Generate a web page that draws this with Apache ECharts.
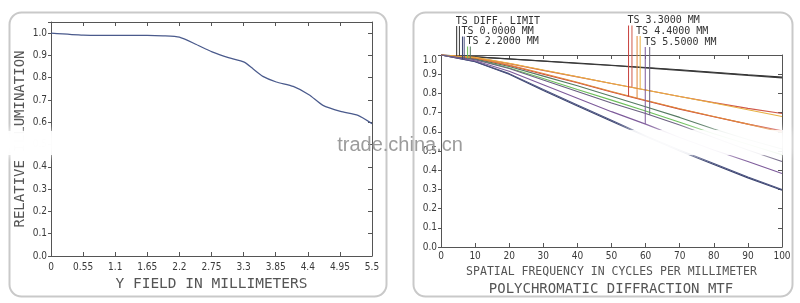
<!DOCTYPE html>
<html><head><meta charset="utf-8">
<script src="https://cdn.jsdelivr.net/npm/echarts@6/dist/echarts.min.js"></script>
<style>html,body{margin:0;padding:0;background:#fff}#c{width:800px;height:303px}</style>
</head><body><div id="c"></div><script>
// ---------- data: relative illumination ----------
const leftField = [0, 0.55, 1.1, 1.65, 1.92, 2.2, 2.49, 2.76, 3.04, 3.31, 3.46, 3.63, 3.86, 4.15, 4.42, 4.66, 4.96, 5.26, 5.5];
const leftIllum = [1.0, 0.991, 0.99, 0.99, 0.988, 0.982, 0.949, 0.916, 0.89, 0.87, 0.84, 0.806, 0.781, 0.761, 0.724, 0.676, 0.649, 0.631, 0.594];
const leftXTicks = ['0', '0.55', '1.1', '1.65', '2.2', '2.75', '3.3', '3.85', '4.4', '4.95', '5.5'];

// ---------- data: polychromatic diffraction MTF ----------
const freq = [0, 10, 20, 30, 40, 50, 60, 70, 80, 90, 100];
const mtfDiffT = [1, 0.99, 0.98, 0.969, 0.958, 0.947, 0.935, 0.923, 0.91, 0.897, 0.885];
const mtfDiffS = [1, 0.99, 0.979, 0.968, 0.956, 0.945, 0.933, 0.92, 0.907, 0.894, 0.881];
const mtf00T = [1, 0.965, 0.9, 0.815, 0.735, 0.655, 0.575, 0.5, 0.43, 0.36, 0.296];
const mtf00S = [1, 0.966, 0.903, 0.82, 0.74, 0.66, 0.58, 0.505, 0.435, 0.365, 0.3];
const mtf22T = [1, 0.978, 0.932, 0.878, 0.82, 0.765, 0.708, 0.65, 0.59, 0.535, 0.48];
const mtf22S = [1, 0.98, 0.94, 0.89, 0.84, 0.785, 0.73, 0.675, 0.615, 0.56, 0.51];
const mtf33T = [1, 0.985, 0.945, 0.9, 0.855, 0.807, 0.762, 0.718, 0.678, 0.64, 0.605];
const mtf33S = [1, 0.987, 0.955, 0.92, 0.886, 0.852, 0.818, 0.784, 0.752, 0.722, 0.695];
const mtf44T = [1, 0.985, 0.948, 0.904, 0.858, 0.81, 0.764, 0.72, 0.68, 0.64, 0.598];
const mtf44S = [1, 0.988, 0.957, 0.922, 0.887, 0.852, 0.818, 0.784, 0.75, 0.715, 0.68];
const mtf55T = [1, 0.97, 0.915, 0.845, 0.775, 0.705, 0.64, 0.57, 0.505, 0.445, 0.383];
const mtf55S = [1, 0.975, 0.93, 0.87, 0.81, 0.75, 0.695, 0.635, 0.57, 0.505, 0.445];
const rightXTicks = ['0', '10', '20', '30', '40', '50', '60', '70', '80', '90', '100'];

const legendLabels = ['TS DIFF. LIMIT', 'TS 0.0000 MM', 'TS 2.2000 MM', 'TS 3.3000 MM', 'TS 4.4000 MM', 'TS 5.5000 MM'];
const leaderFreqs = [[4.6, 5.4], [6.3, 6.8], [7.8, 8.6], [55.0, 56.0], [57.5, 58.4], [59.9, 61.2]];

const mtfSeries = [
  { name: 'DIFF T', data: mtfDiffT, color: '#2b2b2b' },
  { name: 'DIFF S', data: mtfDiffS, color: '#3a3a3a' },
  { name: '0.0 T', data: mtf00T, color: '#3d4570' },
  { name: '0.0 S', data: mtf00S, color: '#4b5380' },
  { name: '2.2 T', data: mtf22T, color: '#6cbf5a' },
  { name: '2.2 S', data: mtf22S, color: '#557a62' },
  { name: '3.3 T', data: mtf33T, color: '#c8403c' },
  { name: '3.3 S', data: mtf33S, color: '#d0584a' },
  { name: '4.4 T', data: mtf44T, color: '#e0883a' },
  { name: '4.4 S', data: mtf44S, color: '#e8b040' },
  { name: '5.5 T', data: mtf55T, color: '#7d5a9a' },
  { name: '5.5 S', data: mtf55S, color: '#6a5f80' }
];

const MONO = "'DejaVu Sans Mono','Liberation Mono',monospace";
const NARROW = "'Liberation Sans Narrow','DejaVu Sans Condensed','DejaVu Sans Mono',sans-serif";
const AX = '#555';
const tickLbl = { color: '#3a3a3a', fontFamily: NARROW, fontSize: 10 };

function frameAxis(extra) {
  return Object.assign({
    type: 'value', splitLine: { show: false },
    axisLine: { show: true, onZero: false, lineStyle: { color: AX, width: 1 } },
    axisTick: { show: true, inside: true, length: 4, lineStyle: { color: AX } },
    axisLabel: { show: false }
  }, extra);
}

const chart = echarts.init(document.getElementById('c'), null, { renderer: 'canvas' });

const option = {
  animation: false,
  backgroundColor: '#fff',
  grid: [
    { left: 51, top: 22, width: 321, height: 234 },
    { left: 441, top: 55, width: 341, height: 192 }
  ],
  xAxis: [
    frameAxis({ gridIndex: 0, position: 'bottom', min: 0, max: 5.5, interval: 0.55,
      axisLabel: Object.assign({ show: true, margin: 6, formatter: v => leftXTicks[Math.round(v / 0.55)] || '' }, tickLbl),
      name: 'Y FIELD IN MILLIMETERS', nameLocation: 'middle', nameGap: 21,
      nameTextStyle: { fontFamily: MONO, fontSize: 14.5, color: '#555' } }),
    frameAxis({ gridIndex: 0, position: 'top', min: 0, max: 5.5, interval: 0.55 }),
    frameAxis({ gridIndex: 1, position: 'bottom', min: 0, max: 100, interval: 10,
      axisLabel: Object.assign({ show: true, margin: 4, formatter: v => rightXTicks[Math.round(v / 10)] || '' }, tickLbl),
      name: 'SPATIAL FREQUENCY IN CYCLES PER MILLIMETER', nameLocation: 'middle', nameGap: 16,
      nameTextStyle: { fontFamily: MONO, fontSize: 11.5, color: '#555' } }),
    frameAxis({ gridIndex: 1, position: 'top', min: 0, max: 100, interval: 10 })
  ],
  yAxis: [
    frameAxis({ gridIndex: 0, position: 'left', min: 0, max: 1.05, interval: 0.1,
      axisTick: { show: true, inside: false, length: 3, lineStyle: { color: AX } },
      axisLabel: Object.assign({ show: true, margin: 4, formatter: v => v > 1.001 ? '' : v.toFixed(1) }, tickLbl),
      name: 'RELATIVE ILLUMINATION', nameLocation: 'middle', nameGap: 24, nameRotate: 90,
      nameTextStyle: { fontFamily: MONO, fontSize: 14, color: '#555' } }),
    frameAxis({ gridIndex: 0, position: 'right', min: 0, max: 1.05, interval: 0.1 }),
    frameAxis({ gridIndex: 1, position: 'left', min: 0, max: 1, interval: 0.1,
      axisTick: { show: true, inside: false, length: 3, lineStyle: { color: AX } },
      axisLabel: Object.assign({ show: true, margin: 4,
        formatter: v => v > 0.999 ? '{t|1.0}' : v.toFixed(1),
        rich: { t: { padding: [10, 0, 0, 0], color: '#3a3a3a', fontFamily: NARROW, fontSize: 10 } } }, tickLbl) }),
    frameAxis({ gridIndex: 1, position: 'right', min: 0, max: 1, interval: 0.1 })
  ],
  series: [
    { type: 'line', xAxisIndex: 0, yAxisIndex: 0, showSymbol: false, smooth: 0.2,
      data: leftField.map((x, i) => [x, leftIllum[i]]),
      lineStyle: { color: '#4a5a8c', width: 1.2 } }
  ].concat(mtfSeries.map(s => ({
    type: 'line', name: s.name, xAxisIndex: 2, yAxisIndex: 2, showSymbol: false,
    data: freq.map((f, i) => [f, s.data[i]]),
    lineStyle: { color: s.color, width: 1.1 }
  })))
};
chart.setOption(option);

function interp(xs, ys, x) {
  for (let i = 1; i < xs.length; i++) {
    if (x <= xs[i]) { const t = (x - xs[i - 1]) / (xs[i] - xs[i - 1]); return ys[i - 1] + t * (ys[i] - ys[i - 1]); }
  }
  return ys[ys.length - 1];
}

const graphics = [];
// rounded panel frames
graphics.push({ type: 'rect', shape: { x: 9.5, y: 12.5, width: 377, height: 284, r: 12 }, style: { fill: null, stroke: '#c9c9c9', lineWidth: 2 }, z: 1 });
graphics.push({ type: 'rect', shape: { x: 413.5, y: 12.5, width: 379, height: 284, r: 12 }, style: { fill: null, stroke: '#c9c9c9', lineWidth: 2 }, z: 1 });

// legend labels with leader lines
const rowY = [21, 31.5, 41.5, 20.5, 31, 42];
legendLabels.forEach((lab, g) => {
  const sT = mtfSeries[g * 2], sS = mtfSeries[g * 2 + 1];
  const pts = leaderFreqs[g].map((f, k) => {
    const s = k === 0 ? sT : sS;
    return { f, color: s.color, p: chart.convertToPixel({ xAxisIndex: 2, yAxisIndex: 2 }, [f, interp(freq, s.data, f)]) };
  });
  const x0 = pts[0].p[0] - 1;
  graphics.push({ type: 'text', x: x0, y: rowY[g], style: { text: lab, fill: '#333', font: '10px ' + MONO, verticalAlign: 'middle', align: 'left' }, z: 50 });
  pts.forEach(pt => {
    graphics.push({ type: 'line', shape: { x1: pt.p[0], y1: rowY[g] + 5, x2: pt.p[0], y2: pt.p[1] }, style: { stroke: pt.color, lineWidth: 1 }, z: 40 });
  });
});

// title
graphics.push({ type: 'text', x: 611, y: 289, style: { text: 'POLYCHROMATIC DIFFRACTION MTF', fill: '#555', font: '14px ' + MONO, align: 'center', verticalAlign: 'middle' }, z: 50 });

// watermark blur areas + text
graphics.push({ type: 'rect', shape: { x: 0, y: 131, width: 57, height: 24 }, style: { fill: 'rgba(255,255,255,0.9)', shadowBlur: 8, shadowColor: '#fff' }, z: 90 });
graphics.push({ type: 'rect', shape: { x: 612, y: 130, width: 178, height: 25 }, style: { fill: 'rgba(255,255,255,0.82)', shadowBlur: 8, shadowColor: '#fff' }, z: 90 });
graphics.push({ type: 'text', x: 400, y: 145, style: { text: 'trade.china.cn', fill: '#9c9c9c', font: '20px "Liberation Sans", Arial, sans-serif', align: 'center', verticalAlign: 'middle' }, z: 100 });

chart.setOption({ graphic: graphics });
</script></body></html>
